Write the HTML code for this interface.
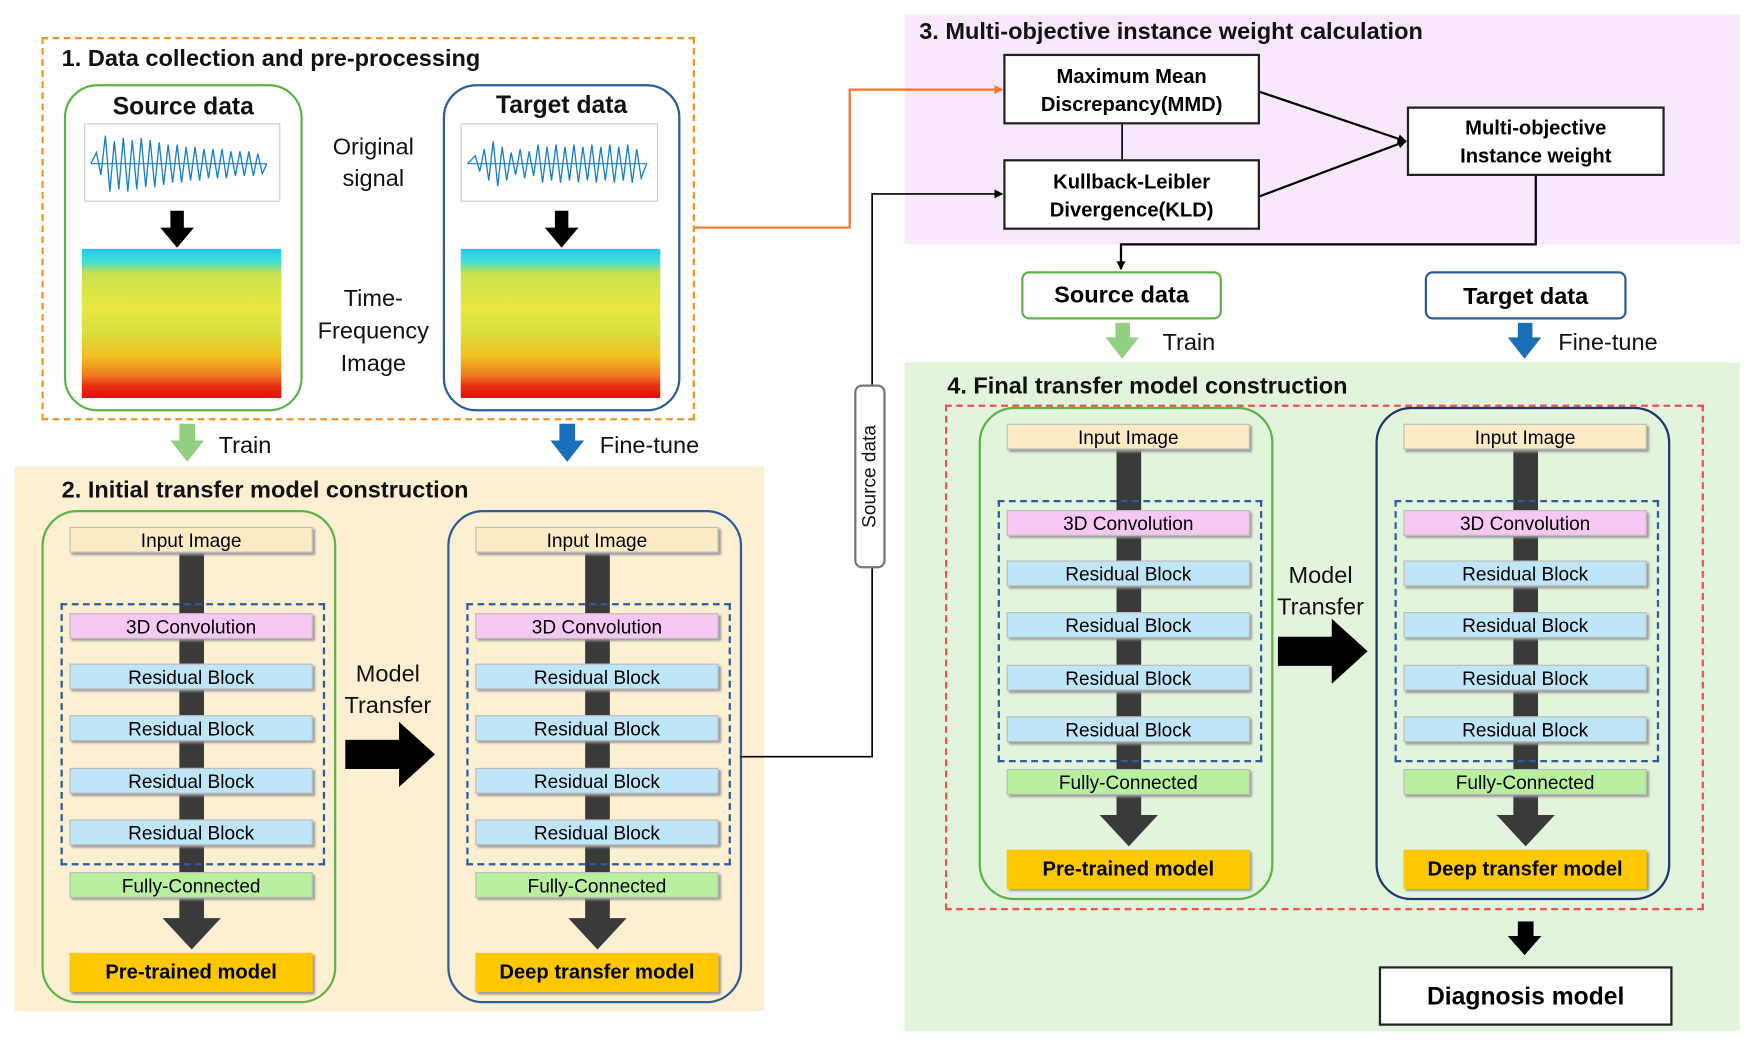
<!DOCTYPE html>
<html><head><meta charset="utf-8"><style>
*{margin:0;padding:0;box-sizing:border-box}
body{width:1755px;height:1046px;overflow:hidden;background:#fff;font-family:"Liberation Sans",sans-serif}
#s{position:absolute;left:0;top:0;width:1560px;height:930px;transform:scale(1.121);transform-origin:0 0}
.a{position:absolute}
.t{position:absolute;white-space:nowrap;color:#111}
.h{font-weight:bold;font-size:21px}
.col{position:absolute;width:263px;height:440px;border:2px solid #5db34a;border-radius:32px}
.col.b{border-color:#2c5c9c}.col.n{border-color:#1e3570}
.col div{position:absolute}
.bar{left:23px;width:217px;height:23px;font-size:17px;text-align:center;line-height:23px;border:1px solid #bbb;box-shadow:2px 2px 2px #999}
.inp{background:#fdebc6}.cv{background:#f8c8f4}.rb{background:#bfe6f8}.fc{background:#b8f0a0}
.mdl{left:23px;width:217px;height:35px;background:#fec800;font-weight:bold;font-size:18px;text-align:center;line-height:35px;box-shadow:2px 2px 2px #999}
.sp{left:121px;top:35px;width:22px;height:330px;background:#3a3a3a}
.ah{left:106px;top:362px;width:0;height:0;border-left:26px solid transparent;border-right:26px solid transparent;border-top:28px solid #3a3a3a}
.dsh{left:15px;top:81px;width:236px;height:234px;border:2px dashed #2c5c9c}
.spec{position:absolute;background:linear-gradient(#28c8f0 0%,#40e0d0 9%,#c8e050 16%,#e8e840 40%,#d8e040 55%,#f0c020 72%,#f08020 84%,#e83010 92%,#d81010 100%)}
.sig{position:absolute;border:1px solid #ccc;background:#fff}
.barr{position:absolute;width:0;height:0;border-left:15px solid transparent;border-right:15px solid transparent}
</style></head><body><div id="s">
<div class="a" style="left:13px;top:416px;width:669px;height:486px;background:#fdf0d2"></div>
<div class="a" style="left:807px;top:13px;width:745px;height:205px;background:#f8e8fb"></div>
<div class="a" style="left:807px;top:323px;width:745px;height:597px;background:#e3f4dc"></div>
<div class="a" style="left:37px;top:33px;width:583px;height:342px;border:2px dashed #f7941d"></div>
<div class="a" style="left:843px;top:361px;width:677px;height:451px;border:2px dashed #f05050"></div>

<div class="t h" style="left:55px;top:41px">1. Data collection and pre-processing</div>
<div class="t h" style="left:55px;top:426px">2. Initial transfer model construction</div>
<div class="t h" style="left:820px;top:17px">3. Multi-objective instance weight calculation</div>
<div class="t h" style="left:845px;top:333px">4. Final transfer model construction</div>

<div class="a" style="left:57px;top:75px;width:213px;height:292px;border:2px solid #5db34a;border-radius:30px"></div>
<div class="a" style="left:395px;top:75px;width:212px;height:292px;border:2px solid #2c5c9c;border-radius:30px"></div>
<div class="t" style="left:57px;width:213px;text-align:center;top:82px;font-weight:bold;font-size:22px">Source data</div>
<div class="t" style="left:395px;width:212px;text-align:center;top:81px;font-weight:bold;font-size:22px">Target data</div>
<div class="sig" style="left:75px;top:110px;width:175px;height:70px"><svg width="175" height="70"><polyline fill="none" stroke="#1a80c8" stroke-width="1.2" points="5,35 10,25 14,45 18,10 22,60 26,15 30,58 34,12 38,60 42,14 46,58 50,12 54,56 58,14 62,56 66,16 70,54 74,18 78,52 82,18 86,52 90,20 94,50 98,20 102,50 106,22 110,48 114,22 118,48 122,22 126,48 130,24 134,46 138,24 142,46 146,24 150,46 154,26 158,44 162,35"/><line x1="5" y1="35" x2="162" y2="35" stroke="#1a80c8"/></svg></div>
<div class="sig" style="left:411px;top:110px;width:176px;height:70px"><svg width="176" height="70"><polyline fill="none" stroke="#1a80c8" stroke-width="1.2" points="5,35 12,28 16,42 20,22 24,50 28,15 32,55 36,20 40,50 44,25 48,45 52,22 56,48 60,24 64,46 68,18 72,52 76,20 80,50 84,18 88,52 92,20 96,50 100,18 104,52 108,20 112,50 116,18 120,52 124,20 128,50 132,18 136,52 140,20 144,50 148,18 152,52 156,22 160,48 165,35"/><line x1="5" y1="35" x2="165" y2="35" stroke="#1a80c8"/></svg></div>
<div class="a" style="left:152px;top:188px;width:12px;height:16px;background:#000"></div><div class="barr" style="left:143px;top:203px;border-top:18px solid #000"></div>
<div class="a" style="left:495px;top:188px;width:12px;height:16px;background:#000"></div><div class="barr" style="left:486px;top:203px;border-top:18px solid #000"></div>
<div class="spec" style="left:73px;top:222px;width:178px;height:133px"></div>
<div class="spec" style="left:411px;top:222px;width:178px;height:133px"></div>
<div class="t" style="left:273px;width:120px;text-align:center;top:118px;font-size:21px;line-height:28px">Original<br>signal</div>
<div class="t" style="left:273px;width:120px;text-align:center;top:252px;font-size:21px;line-height:29px">Time-<br>Frequency<br>Image</div>
<div class="a" style="left:160px;top:378px;width:14px;height:16px;background:#90d080"></div><div class="barr" style="left:152px;top:393px;border-top:19px solid #90d080"></div>
<div class="t" style="left:195px;top:386px;font-size:21px">Train</div>
<div class="a" style="left:499px;top:378px;width:14px;height:16px;background:#1a70b8"></div><div class="barr" style="left:491px;top:393px;border-top:19px solid #1a70b8"></div>
<div class="t" style="left:535px;top:386px;font-size:21px">Fine-tune</div>

<div class="col" style="left:37px;top:455px"><div class="sp"></div><div class="ah"></div><div class="bar inp" style="top:13px">Input Image</div><div class="dsh"></div><div class="bar cv" style="top:90px">3D Convolution</div><div class="bar rb" style="top:135px">Residual Block</div><div class="bar rb" style="top:181px">Residual Block</div><div class="bar rb" style="top:228px">Residual Block</div><div class="bar rb" style="top:274px">Residual Block</div><div class="bar fc" style="top:321px">Fully-Connected</div><div class="mdl" style="top:393px">Pre-trained model</div></div>
<div class="col b" style="left:399px;top:455px"><div class="sp"></div><div class="ah"></div><div class="bar inp" style="top:13px">Input Image</div><div class="dsh"></div><div class="bar cv" style="top:90px">3D Convolution</div><div class="bar rb" style="top:135px">Residual Block</div><div class="bar rb" style="top:181px">Residual Block</div><div class="bar rb" style="top:228px">Residual Block</div><div class="bar rb" style="top:274px">Residual Block</div><div class="bar fc" style="top:321px">Fully-Connected</div><div class="mdl" style="top:393px">Deep transfer model</div></div>
<div class="col" style="left:873px;top:363px"><div class="sp"></div><div class="ah"></div><div class="bar inp" style="top:13px">Input Image</div><div class="dsh"></div><div class="bar cv" style="top:90px">3D Convolution</div><div class="bar rb" style="top:135px">Residual Block</div><div class="bar rb" style="top:181px">Residual Block</div><div class="bar rb" style="top:228px">Residual Block</div><div class="bar rb" style="top:274px">Residual Block</div><div class="bar fc" style="top:321px">Fully-Connected</div><div class="mdl" style="top:393px">Pre-trained model</div></div>
<div class="col n" style="left:1227px;top:363px"><div class="sp"></div><div class="ah"></div><div class="bar inp" style="top:13px">Input Image</div><div class="dsh"></div><div class="bar cv" style="top:90px">3D Convolution</div><div class="bar rb" style="top:135px">Residual Block</div><div class="bar rb" style="top:181px">Residual Block</div><div class="bar rb" style="top:228px">Residual Block</div><div class="bar rb" style="top:274px">Residual Block</div><div class="bar fc" style="top:321px">Fully-Connected</div><div class="mdl" style="top:393px">Deep transfer model</div></div>

<div class="t" style="left:300px;width:92px;text-align:center;top:588px;font-size:21px;line-height:28px">Model<br>Transfer</div>
<div class="a" style="left:308px;top:660px;width:50px;height:26px;background:#000"></div><div class="a" style="left:356px;top:644px;border-top:29px solid transparent;border-bottom:29px solid transparent;border-left:32px solid #000"></div>
<div class="t" style="left:1132px;width:92px;text-align:center;top:500px;font-size:21px;line-height:28px">Model<br>Transfer</div>
<div class="a" style="left:1140px;top:568px;width:50px;height:26px;background:#000"></div><div class="a" style="left:1188px;top:552px;border-top:29px solid transparent;border-bottom:29px solid transparent;border-left:32px solid #000"></div>

<svg class="a" style="left:0;top:0" width="1560" height="930">
<defs><marker id="m" markerWidth="8" markerHeight="8" refX="7" refY="4" orient="auto" markerUnits="userSpaceOnUse"><path d="M0,0L8,4L0,8z" fill="#000"/></marker>
<marker id="mo" markerWidth="8" markerHeight="8" refX="7" refY="4" orient="auto" markerUnits="userSpaceOnUse"><path d="M0,0L8,4L0,8z" fill="#f7742d"/></marker></defs>
<polyline points="620,203 758,203 758,80 894,80" fill="none" stroke="#f7742d" stroke-width="2" marker-end="url(#mo)"/>
<polyline points="660,675 778,675 778,507" fill="none" stroke="#000" stroke-width="1.5"/>
<polyline points="778,343 778,173 894,173" fill="none" stroke="#000" stroke-width="1.5" marker-end="url(#m)"/>
<line x1="1001" y1="111" x2="1001" y2="142" stroke="#000" stroke-width="1.5"/>
<line x1="1124" y1="82" x2="1254" y2="126" stroke="#000" stroke-width="2" marker-end="url(#m)"/>
<line x1="1124" y1="175" x2="1254" y2="126" stroke="#000" stroke-width="2" marker-end="url(#m)"/>
<polyline points="1370,157 1370,218 1000,218 1000,240" fill="none" stroke="#000" stroke-width="2" marker-end="url(#m)"/>
</svg>
<div class="a" style="left:762px;top:343px;width:28px;height:164px;border:2px solid #777;border-radius:7px;background:#fff"></div>
<div class="t" style="left:776px;top:425px;font-size:17px;transform:translate(-50%,-50%) rotate(-90deg)">Source data</div>

<div class="a" style="left:895px;top:48px;width:229px;height:63px;border:2px solid #222;background:#fff;font-weight:bold;font-size:18px;text-align:center;line-height:25px;padding-top:6px">Maximum Mean<br>Discrepancy(MMD)</div>
<div class="a" style="left:895px;top:142px;width:229px;height:63px;border:2px solid #222;background:#fff;font-weight:bold;font-size:18px;text-align:center;line-height:25px;padding-top:6px">Kullback-Leibler<br>Divergence(KLD)</div>
<div class="a" style="left:1255px;top:95px;width:230px;height:62px;border:2px solid #222;background:#fff;font-weight:bold;font-size:18px;text-align:center;line-height:25px;padding-top:5px">Multi-objective<br>Instance weight</div>
<div class="a" style="left:911px;top:242px;width:179px;height:43px;border:2px solid #5db34a;border-radius:7px;background:#fff;font-weight:bold;font-size:21px;text-align:center;line-height:39px">Source data</div>
<div class="a" style="left:1271px;top:242px;width:180px;height:43px;border:2px solid #2c5c9c;border-radius:7px;background:#fff;font-weight:bold;font-size:21px;text-align:center;line-height:41px">Target data</div>
<div class="a" style="left:995px;top:288px;width:13px;height:14px;background:#90d080"></div><div class="barr" style="left:986px;top:301px;border-top:19px solid #90d080"></div>
<div class="t" style="left:1037px;top:294px;font-size:21px">Train</div>
<div class="a" style="left:1354px;top:288px;width:13px;height:14px;background:#1a70b8"></div><div class="barr" style="left:1345px;top:301px;border-top:19px solid #1a70b8"></div>
<div class="t" style="left:1390px;top:294px;font-size:21px">Fine-tune</div>

<div class="a" style="left:1354px;top:822px;width:14px;height:14px;background:#000"></div><div class="barr" style="left:1345px;top:835px;border-top:17px solid #000"></div>
<div class="a" style="left:1230px;top:862px;width:262px;height:53px;border:2px solid #222;background:#fff;font-weight:bold;font-size:22px;text-align:center;line-height:49px">Diagnosis model</div>
</div></body></html>
